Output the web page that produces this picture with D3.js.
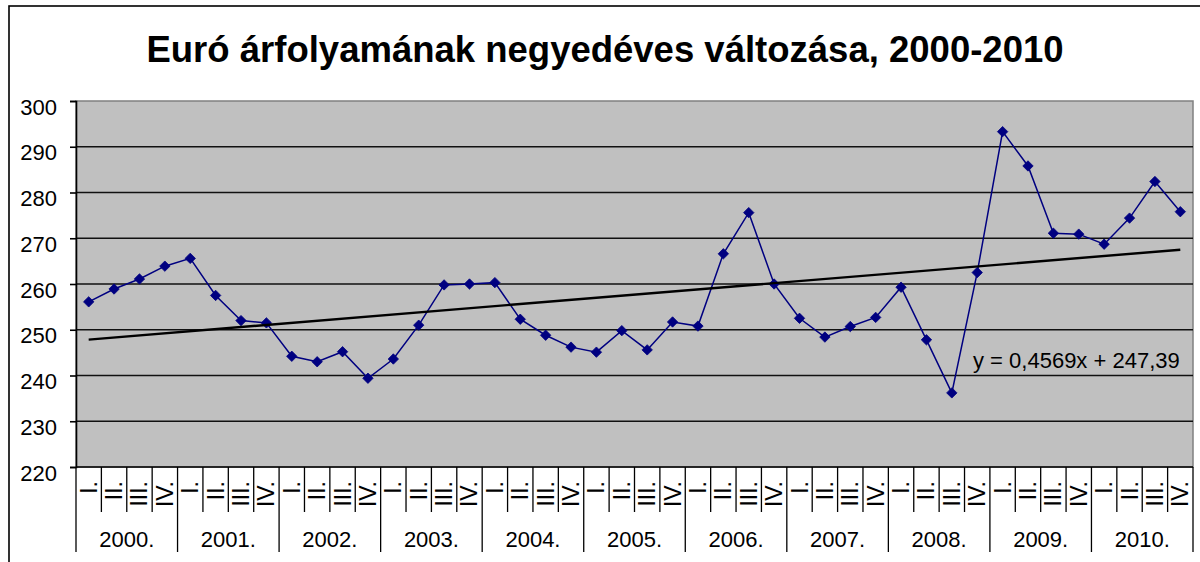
<!DOCTYPE html>
<html>
<head>
<meta charset="utf-8">
<script src="https://cdn.jsdelivr.net/npm/d3@7"></script>
<style>
  html, body { margin: 0; padding: 0; background: #fff; }
  svg { display: block; }
  text { font-family: Arial, "Liberation Sans", sans-serif; fill: #000; }
</style>
</head>
<body>
<svg id="chart" width="1200" height="562"></svg>
<script>
const title = "Euró árfolyamának negyedéves változása, 2000-2010";
const years = ["2000.", "2001.", "2002.", "2003.", "2004.", "2005.", "2006.", "2007.", "2008.", "2009.", "2010."];
const quarters = ["I.", "II.", "III.", "IV."];
const values = [
  256.1, 258.9, 261.1, 263.9,
  265.6, 257.5, 252.0, 251.5,
  244.2, 243.0, 245.2, 239.4,
  243.6, 251.0, 259.8, 260.0,
  260.3, 252.3, 248.8, 246.2,
  245.1, 249.8, 245.6, 251.7,
  250.8, 266.6, 275.6, 260.0,
  252.5, 248.4, 250.7, 252.7,
  259.3, 247.8, 236.2, 262.5,
  293.3, 285.8, 271.1, 270.9,
  268.7, 274.4, 282.4, 275.8
];
const yTicks = [220, 230, 240, 250, 260, 270, 280, 290, 300];
const trendSlope = 0.4569;
const trendIntercept = 247.39;
const trendLabel = "y = 0,4569x + 247,39";

const svg = d3.select("#chart");
const L = 76, R = 1193, T = 101, B = 467;

const keys = [];
years.forEach(y => quarters.forEach(q => keys.push(y + "|" + q)));
const data = keys.map((k, i) => ({ key: k, year: k.split("|")[0], q: k.split("|")[1], v: values[i], idx: i + 1 }));

const x = d3.scaleBand().domain(keys).range([L, R]).padding(0);
const bw = x.bandwidth();
const cx = k => x(k) + bw / 2;
const y = d3.scaleLinear().domain([220, 300]).range([B, T]);

// outer chart border
svg.append("rect").attr("x", 9).attr("y", 6).attr("width", 1200).attr("height", 600)
  .attr("fill", "#fff").attr("stroke", "#000").attr("stroke-width", 1.6);

// title
svg.append("text").attr("x", 605).attr("y", 62).attr("text-anchor", "middle")
  .style("font-size", "36.5px").style("font-weight", "bold").text(title);

// plot area
svg.append("rect").attr("x", L).attr("y", T).attr("width", R - L).attr("height", B - T)
  .attr("fill", "#c0c0c0").attr("stroke", "#808080").attr("stroke-width", 1.5);

// gridlines
svg.append("g").selectAll("line").data(yTicks.filter(t => t > 220 && t < 300)).join("line")
  .attr("x1", L).attr("x2", R).attr("y1", d => y(d)).attr("y2", d => y(d))
  .attr("stroke", "#111").attr("stroke-width", 1.6);

// y axis
const yAxis = d3.axisLeft(y).tickValues(yTicks).tickSize(6).tickPadding(13).tickFormat(d3.format("d"));
const gy = svg.append("g").attr("transform", `translate(${L},0)`).call(yAxis);
gy.attr("font-size", null).attr("font-family", null);
gy.select(".domain").attr("stroke", "#000").attr("stroke-width", 1.6);
gy.selectAll(".tick line").attr("stroke", "#000").attr("stroke-width", 1.6);
gy.selectAll(".tick text").style("font-size", "22px").attr("fill", "#000").attr("dy", "0.6em");

// x axis baseline
svg.append("line").attr("x1", L).attr("x2", R).attr("y1", B).attr("y2", B)
  .attr("stroke", "#000").attr("stroke-width", 1.6);

// separators
const seps = d3.range(keys.length + 1);
svg.append("g").selectAll("line").data(seps).join("line")
  .attr("x1", i => i < keys.length ? x(keys[i]) : R)
  .attr("x2", i => i < keys.length ? x(keys[i]) : R)
  .attr("y1", B)
  .attr("y2", i => (i % 4 === 0) ? 552 : 512)
  .attr("stroke", "#000").attr("stroke-width", 1.3);

// quarter labels (rotated)
svg.append("g").selectAll("text").data(data).join("text")
  .attr("transform", d => `translate(${cx(d.key) + 8},481) rotate(-90)`)
  .attr("text-anchor", "end")
  .style("font-size", "23px")
  .text(d => d.q);

// year labels
svg.append("g").selectAll("text").data(years).join("text")
  .attr("x", yr => x(yr + "|" + quarters[0]) + bw * 2)
  .attr("y", 547)
  .attr("text-anchor", "middle")
  .style("font-size", "22px")
  .text(yr => yr);

// data line
const line = d3.line().x(d => cx(d.key)).y(d => y(d.v));
svg.append("path").datum(data).attr("d", line)
  .attr("fill", "none").attr("stroke", "#000080").attr("stroke-width", 1.5);

// markers
svg.append("g").selectAll("path").data(data).join("path")
  .attr("transform", d => `translate(${cx(d.key)},${y(d.v)})`)
  .attr("d", "M0,-5.2L5.2,0L0,5.2L-5.2,0Z")
  .attr("fill", "#000080").attr("stroke", "#000080").attr("stroke-width", 0.8);

// trendline
const first = data[0], last = data[data.length - 1];
const trend = [first, last].map(d => ({ key: d.key, v: trendIntercept + trendSlope * d.idx }));
svg.append("path").datum(trend).attr("d", line)
  .attr("fill", "none").attr("stroke", "#000").attr("stroke-width", 2.4);

// trend equation
svg.append("text").attr("x", 973).attr("y", 368).style("font-size", "22px").text(trendLabel);
</script>
</body>
</html>
